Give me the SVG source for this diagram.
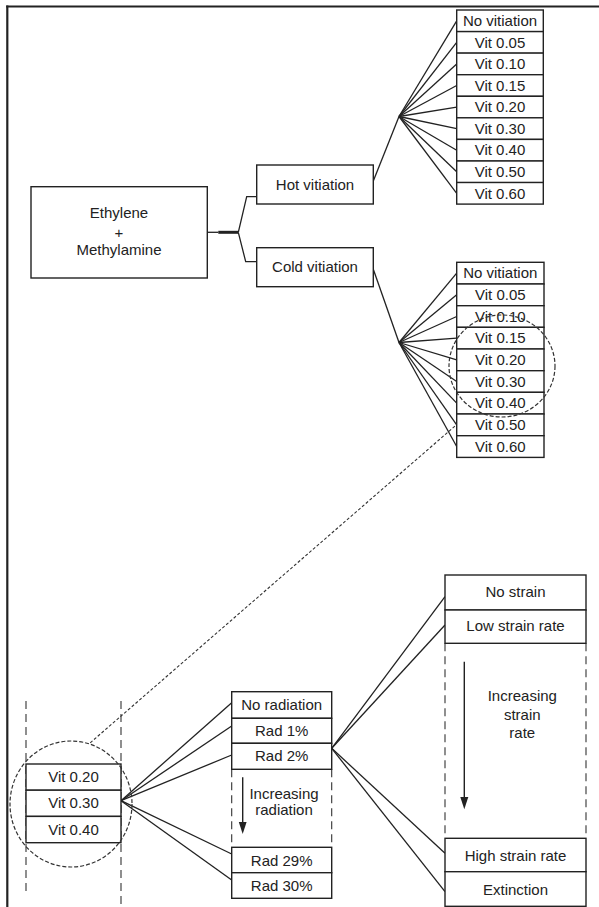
<svg xmlns="http://www.w3.org/2000/svg" width="599" height="907" viewBox="0 0 599 907">
<style>
.box{fill:#fff;stroke:#222;stroke-width:1.4}
.t{font-family:"Liberation Sans",Arial,sans-serif;font-size:15px;fill:#222;text-anchor:middle}
.ln{stroke:#222;stroke-width:1.3;fill:none}
.dsh{stroke:#333;stroke-width:1.1;fill:none;stroke-dasharray:8,5}
.dc{stroke:#333;stroke-width:1.2;fill:none;stroke-dasharray:4,2}
</style>
<rect width="599" height="907" fill="#fff"/>
<g id="frame">
<line x1="6.2" y1="6.5" x2="599" y2="6.5" stroke="#222" stroke-width="2.2"/>
<line x1="7.3" y1="5.4" x2="7.3" y2="907" stroke="#222" stroke-width="2.2"/>
</g>
<g id="connectors">
<line x1="207.3" y1="232.3" x2="218.3" y2="232.3" class="ln"/>
<line x1="218.3" y1="232.3" x2="238.3" y2="232.3" stroke="#222" stroke-width="3"/>
<polyline points="238.3,232.3 246.7,196.7 256.7,196.7" class="ln"/>
<polyline points="238.3,232.3 245.7,261.7 256.7,261.7" class="ln"/>
<line x1="373.3" y1="181" x2="399" y2="116.5" class="ln"/>
<line x1="373.3" y1="269.3" x2="399" y2="342.5" class="ln"/>
<g id="hotfan">
<line x1="399" y1="116.5" x2="456.7" y2="20.8" class="ln"/>
<line x1="399" y1="116.5" x2="456.7" y2="42.4" class="ln"/>
<line x1="399" y1="116.5" x2="456.7" y2="63.9" class="ln"/>
<line x1="399" y1="116.5" x2="456.7" y2="85.5" class="ln"/>
<line x1="399" y1="116.5" x2="456.7" y2="107.1" class="ln"/>
<line x1="399" y1="116.5" x2="456.7" y2="128.6" class="ln"/>
<line x1="399" y1="116.5" x2="456.7" y2="150.2" class="ln"/>
<line x1="399" y1="116.5" x2="456.7" y2="171.8" class="ln"/>
<line x1="399" y1="116.5" x2="456.7" y2="193.3" class="ln"/>
</g>
<g id="coldfan">
<line x1="399" y1="342.5" x2="456.7" y2="273.1" class="ln"/>
<line x1="399" y1="342.5" x2="456.7" y2="294.8" class="ln"/>
<line x1="399" y1="342.5" x2="456.7" y2="316.5" class="ln"/>
<line x1="399" y1="342.5" x2="456.7" y2="338.1" class="ln"/>
<line x1="399" y1="342.5" x2="456.7" y2="359.8" class="ln"/>
<line x1="399" y1="342.5" x2="456.7" y2="381.5" class="ln"/>
<line x1="399" y1="342.5" x2="456.7" y2="403.1" class="ln"/>
<line x1="399" y1="342.5" x2="456.7" y2="424.8" class="ln"/>
<line x1="399" y1="342.5" x2="456.7" y2="446.5" class="ln"/>
</g>
<line x1="470" y1="413" x2="90" y2="743" stroke="#333" stroke-width="1.1" stroke-dasharray="3,2"/>
<g id="radfan">
<line x1="121" y1="800.7" x2="231.7" y2="702.7" class="ln"/>
<line x1="121" y1="800.7" x2="231.7" y2="726" class="ln"/>
<line x1="121" y1="800.7" x2="231.7" y2="755" class="ln"/>
<line x1="121" y1="800.7" x2="231.7" y2="854" class="ln"/>
<line x1="121" y1="800.7" x2="231.7" y2="880" class="ln"/>
</g>
<g id="strainfan">
<line x1="331.7" y1="748.3" x2="445" y2="596.7" class="ln"/>
<line x1="331.7" y1="748.3" x2="445" y2="625" class="ln"/>
<line x1="331.7" y1="748.3" x2="445" y2="853.3" class="ln"/>
<line x1="331.7" y1="748.3" x2="445" y2="891.7" class="ln"/>
</g>
</g>
<g id="root">
<rect x="31" y="186.7" width="176.3" height="91.3" class="box"/>
<text x="119" y="218.3" class="t">Ethylene</text>
<text x="119" y="237.5" class="t">+</text>
<text x="119" y="255" class="t">Methylamine</text>
</g>
<g id="hot">
<rect x="256.7" y="165" width="116.6" height="39" class="box"/>
<text x="315" y="189.5" class="t">Hot vitiation</text>
</g>
<g id="cold">
<rect x="256.7" y="247.7" width="116.6" height="39" class="box"/>
<text x="315" y="272" class="t">Cold vitiation</text>
</g>
<g id="hotlist">
<rect x="456.7" y="10" width="86.6" height="21.6" class="box"/><text x="500" y="26" class="t">No vitiation</text>
<rect x="456.7" y="31.6" width="86.6" height="21.6" class="box"/><text x="500" y="47.6" class="t">Vit 0.05</text>
<rect x="456.7" y="53.1" width="86.6" height="21.6" class="box"/><text x="500" y="69.1" class="t">Vit 0.10</text>
<rect x="456.7" y="74.7" width="86.6" height="21.6" class="box"/><text x="500" y="90.7" class="t">Vit 0.15</text>
<rect x="456.7" y="96.3" width="86.6" height="21.6" class="box"/><text x="500" y="112.3" class="t">Vit 0.20</text>
<rect x="456.7" y="117.8" width="86.6" height="21.6" class="box"/><text x="500" y="133.8" class="t">Vit 0.30</text>
<rect x="456.7" y="139.4" width="86.6" height="21.6" class="box"/><text x="500" y="155.4" class="t">Vit 0.40</text>
<rect x="456.7" y="161" width="86.6" height="21.6" class="box"/><text x="500" y="177" class="t">Vit 0.50</text>
<rect x="456.7" y="182.5" width="86.6" height="21.6" class="box"/><text x="500" y="198.5" class="t">Vit 0.60</text>
</g>
<g id="coldlist">
<rect x="456.7" y="262.3" width="87.3" height="21.7" class="box"/><text x="500.3" y="278.3" class="t">No vitiation</text>
<rect x="456.7" y="284" width="87.3" height="21.7" class="box"/><text x="500.3" y="300" class="t">Vit 0.05</text>
<rect x="456.7" y="305.7" width="87.3" height="21.7" class="box"/><text x="500.3" y="321.7" class="t">Vit 0.10</text>
<rect x="456.7" y="327.3" width="87.3" height="21.7" class="box"/><text x="500.3" y="343.3" class="t">Vit 0.15</text>
<rect x="456.7" y="349" width="87.3" height="21.7" class="box"/><text x="500.3" y="365" class="t">Vit 0.20</text>
<rect x="456.7" y="370.7" width="87.3" height="21.7" class="box"/><text x="500.3" y="386.7" class="t">Vit 0.30</text>
<rect x="456.7" y="392.3" width="87.3" height="21.7" class="box"/><text x="500.3" y="408.3" class="t">Vit 0.40</text>
<rect x="456.7" y="414" width="87.3" height="21.7" class="box"/><text x="500.3" y="430" class="t">Vit 0.50</text>
<rect x="456.7" y="435.7" width="87.3" height="21.7" class="box"/><text x="500.3" y="451.7" class="t">Vit 0.60</text>
</g>
<ellipse id="zoomcircle-top" cx="502" cy="366" rx="53" ry="51" class="dc"/>
<g id="vitsel">
<line x1="26" y1="701" x2="26" y2="893" class="dsh"/>
<line x1="121" y1="701" x2="121" y2="907" class="dsh"/>
<rect x="26" y="764" width="95" height="26.2" class="box"/><text x="73.5" y="782" class="t">Vit 0.20</text>
<rect x="26" y="790.2" width="95" height="26.2" class="box"/><text x="73.5" y="808" class="t">Vit 0.30</text>
<rect x="26" y="816.4" width="95" height="26.3" class="box"/><text x="73.5" y="834.5" class="t">Vit 0.40</text>
<ellipse cx="71" cy="804" rx="61" ry="63" class="dc"/>
</g>
<g id="radiation">
<line x1="231.7" y1="769.3" x2="231.7" y2="847.3" class="dsh"/>
<line x1="331.7" y1="769.3" x2="331.7" y2="847.3" class="dsh"/>
<rect x="231.7" y="691.7" width="100" height="26.6" class="box"/><text x="281.7" y="709.5" class="t">No radiation</text>
<rect x="231.7" y="718.3" width="100" height="25" class="box"/><text x="281.7" y="735.5" class="t">Rad 1%</text>
<rect x="231.7" y="743.3" width="100" height="26" class="box"/><text x="281.7" y="761" class="t">Rad 2%</text>
<line x1="242.7" y1="777.3" x2="242.7" y2="823" stroke="#222" stroke-width="1.4"/>
<polygon points="238.8,822 246.6,822 242.7,834" fill="#222"/>
<text x="284" y="798.5" class="t">Increasing</text>
<text x="284" y="814.5" class="t">radiation</text>
<rect x="231.7" y="847.3" width="100" height="25.4" class="box"/><text x="281.7" y="865.5" class="t">Rad 29%</text>
<rect x="231.7" y="872.7" width="100" height="25.6" class="box"/><text x="281.7" y="890.5" class="t">Rad 30%</text>
</g>
<g id="strain">
<line x1="445" y1="643.3" x2="445" y2="838.3" class="dsh"/>
<line x1="586" y1="643.3" x2="586" y2="838.3" class="dsh"/>
<rect x="445" y="575" width="141" height="35" class="box"/><text x="515.5" y="597" class="t">No strain</text>
<rect x="445" y="610" width="141" height="33.3" class="box"/><text x="515.5" y="631" class="t">Low strain rate</text>
<line x1="464.3" y1="661.7" x2="464.3" y2="798" stroke="#222" stroke-width="1.4"/>
<polygon points="460.3,797 468.3,797 464.3,809.3" fill="#222"/>
<text x="522.3" y="701" class="t">Increasing</text>
<text x="522.3" y="720" class="t">strain</text>
<text x="522.3" y="737.5" class="t">rate</text>
<rect x="445" y="838.3" width="141" height="33.4" class="box"/><text x="515.5" y="860.5" class="t">High strain rate</text>
<rect x="445" y="871.7" width="141" height="34.6" class="box"/><text x="515.5" y="895" class="t">Extinction</text>
</g>
</svg>
